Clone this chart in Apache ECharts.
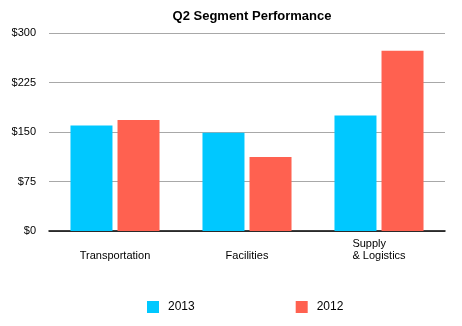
<!DOCTYPE html>
<html>
<head>
<meta charset="utf-8">
<script src="https://cdn.jsdelivr.net/npm/echarts@6/dist/echarts.min.js"></script>
<style>
  html, body { margin: 0; padding: 0; background: #fff; }
  #chart { width: 462px; height: 326px; }
</style>
</head>
<body>
<div id="chart"></div>
<script>
// Quarterly segment figures, in dollars
const categories = ['Transportation', 'Facilities', 'Supply\n& Logistics'];
const values2013 = [160, 149, 175];
const values2012 = [168, 112, 273];
const yTicks = { min: 0, max: 300, interval: 75 };

const FONT = 'Liberation Sans, Arial, Helvetica, sans-serif';

const chart = echarts.init(document.getElementById('chart'), null, { renderer: 'canvas' });

chart.setOption({
  animation: false,
  title: {
    text: 'Q2 Segment Performance',
    left: 247,
    textAlign: 'center',
    top: 5,
    textStyle: { fontFamily: FONT, fontSize: 13, fontWeight: 'bold', color: '#000' }
  },
  legend: {
    bottom: 8,
    left: 142,
    itemWidth: 12,
    itemHeight: 12,
    itemGap: 101,
    icon: 'rect',
    textStyle: { fontFamily: FONT, fontSize: 12, color: '#000', padding: [0, 0, 0, 4] },
    data: ['2013', '2012']
  },
  grid: { left: 49, right: 17, top: 33, bottom: 95 },
  xAxis: {
    type: 'category',
    data: categories,
    axisTick: { show: false },
    axisLine: { lineStyle: { color: '#000', width: 1.5 } },
    axisLabel: {
      interval: 0,
      margin: 31,
      verticalAlign: 'bottom',
      fontFamily: FONT,
      fontSize: 11,
      color: '#000',
      lineHeight: 12,
      formatter: function (v) {
        return v.split('\n').map(function (s) { return '{l|' + s + '}'; }).join('\n');
      },
      rich: { l: { align: 'left', fontFamily: FONT, fontSize: 11, color: '#000', lineHeight: 12 } }
    }
  },
  yAxis: {
    type: 'value',
    min: yTicks.min,
    max: yTicks.max,
    interval: yTicks.interval,
    axisLine: { show: false },
    axisTick: { show: false },
    splitLine: { lineStyle: { color: '#a8a8a8', width: 1 } },
    axisLabel: {
      margin: 13,
      fontFamily: FONT,
      fontSize: 11,
      color: '#000',
      formatter: function (v) { return '$' + v; }
    }
  },
  series: [
    {
      name: '2013',
      type: 'bar',
      data: values2013,
      barWidth: 42,
      barGap: '12%',
      itemStyle: { color: '#00c8ff' }
    },
    {
      name: '2012',
      type: 'bar',
      data: values2012,
      barWidth: 42,
      barGap: '12%',
      itemStyle: { color: '#ff6150' }
    }
  ]
});
</script>
</body>
</html>
